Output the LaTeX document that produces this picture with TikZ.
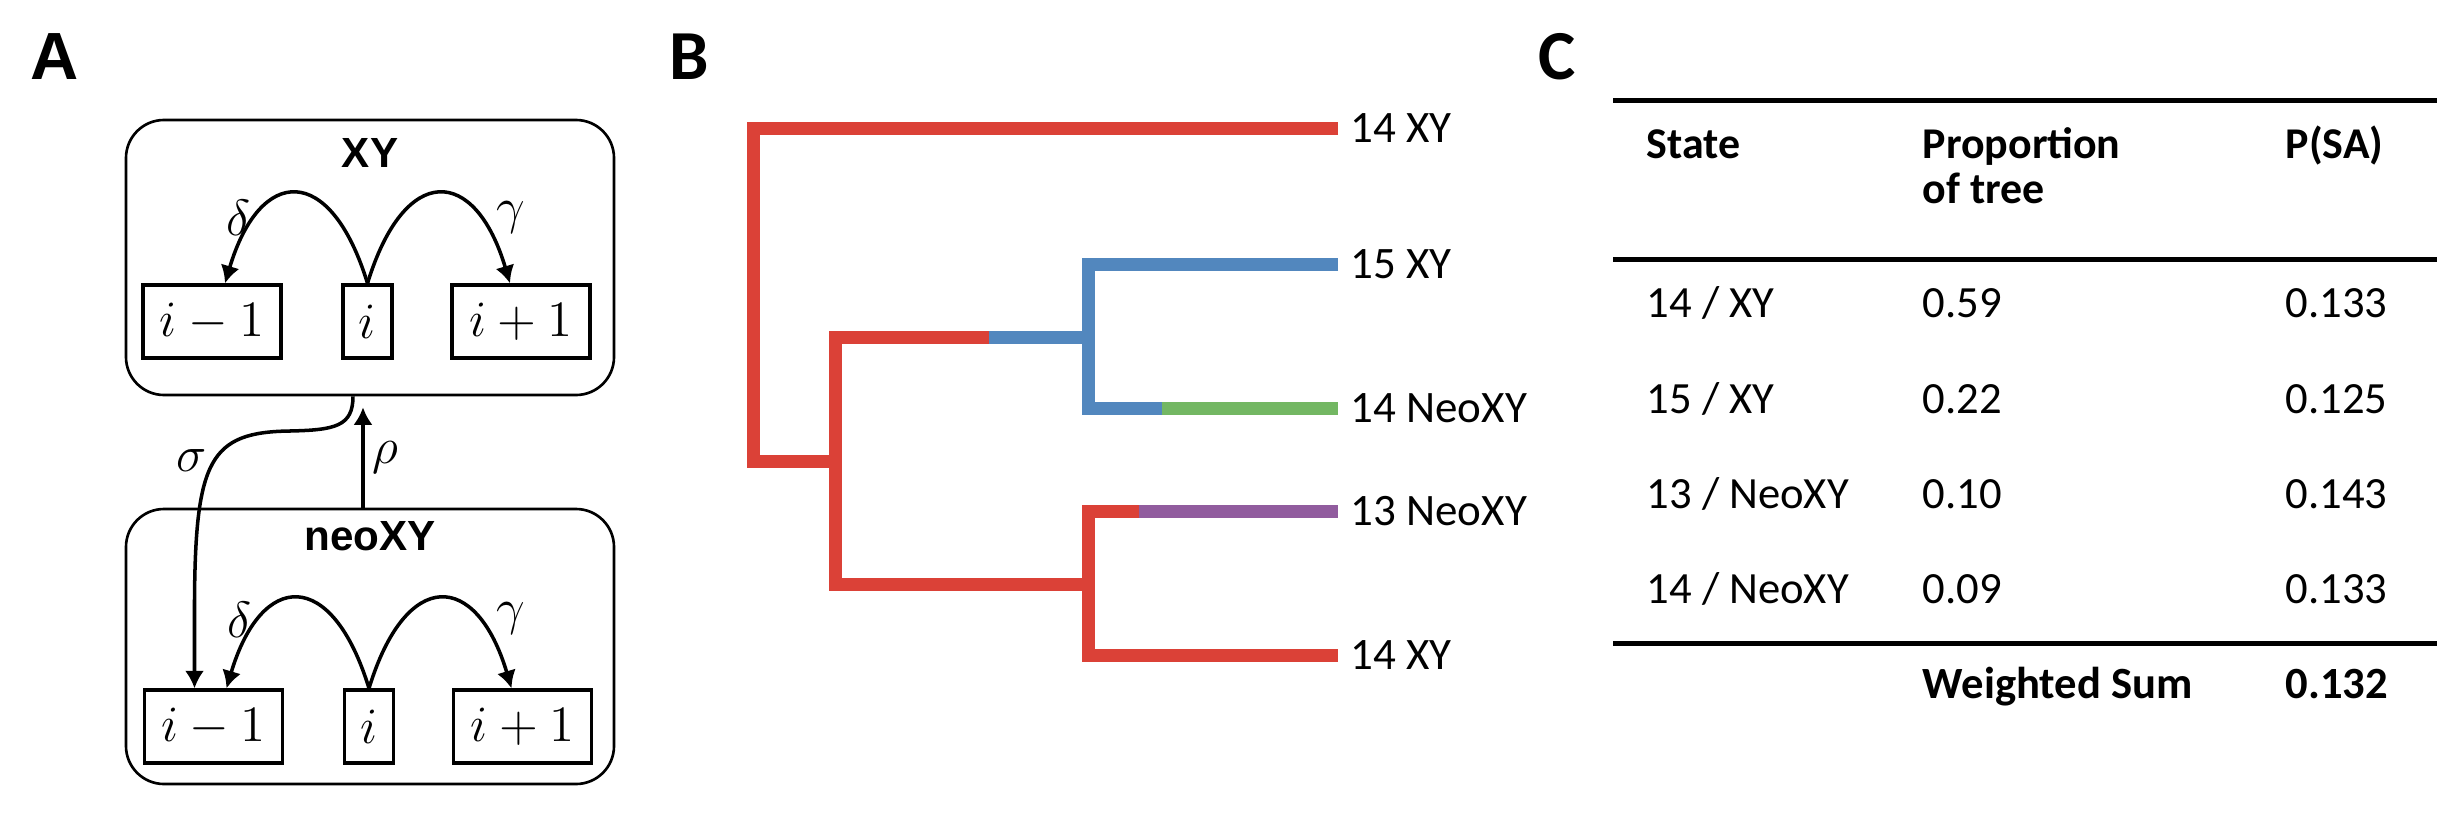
\RequirePackage{fix-cm}
\documentclass[tikz,border=0pt]{standalone}
\usepackage{fontspec}
\usetikzlibrary{arrows.meta}
\newfontfamily\tablefont{Carlito}
\newfontfamily\panelfont{Liberation Sans}
\definecolor{TreeRed}{HTML}{DB4137}
\definecolor{TreeBlue}{HTML}{5287BE}
\definecolor{TreeGreen}{HTML}{73B763}
\definecolor{TreePurple}{HTML}{915C9E}

\begin{document}
\begin{tikzpicture}[x=1cm,y=1cm,
  groupbox/.style={draw,line width=0.75pt,rounded corners=0.38cm,minimum width=4.88cm,minimum height=2.75cm,inner sep=0pt},
  statebox/.style={draw,line width=0.95pt,minimum height=0.73cm,inner sep=0pt,font=\fontsize{14.5}{17}\selectfont},
  arr/.style={line width=1pt,-{Latex[length=5pt,width=5.5pt]}},
  greek/.style={inner sep=0pt,font=\fontsize{14.5}{17}\selectfont},
  branch/.style={line width=0.13cm},
  tiplabel/.style={anchor=west,inner sep=0pt,font=\tablefont\fontsize{12.8}{15}\selectfont},
  headcell/.style={anchor=base west,inner sep=0pt,font=\tablefont\bfseries\fontsize{12.5}{15}\selectfont},
  bodycell/.style={anchor=base west,inner sep=0pt,font=\tablefont\fontsize{12.7}{15}\selectfont},
  panel/.style={anchor=base west,inner sep=0pt}]
\path[use as bounding box] (0,0) rectangle (24.57,8.16);

% panel letters
\node[panel,font=\panelfont\bfseries\fontsize{19}{22}\selectfont] (lblA) at (0.30,7.36) {A};
\node[panel,font=\tablefont\bfseries\fontsize{20}{24}\selectfont] (lblB) at (6.69,7.36) {B};
\node[panel,font=\tablefont\bfseries\fontsize{20}{24}\selectfont] (lblC) at (15.38,7.36) {C};

% A: model
\node[groupbox] (xy) at (3.70,5.585) {};
\node[groupbox] (neo) at (3.70,1.695) {};
\node[panel,anchor=base,font=\panelfont\bfseries\fontsize{12}{14}\selectfont] (xytitle) at (3.70,6.49) {XY};
\node[panel,anchor=base,font=\panelfont\bfseries\fontsize{12}{14}\selectfont] (neotitle) at (3.70,2.66) {neoXY};
\node[statebox,minimum width=1.38cm] (im1) at (2.12,4.945) {$i-1$};
\node[statebox,minimum width=0.49cm] (i1) at (3.675,4.945) {$i$};
\node[statebox,minimum width=1.38cm] (ip1) at (5.21,4.945) {$i+1$};
\node[statebox,minimum width=1.38cm] (im2) at (2.135,0.895) {$i-1$};
\node[statebox,minimum width=0.49cm] (i2) at (3.69,0.895) {$i$};
\node[statebox,minimum width=1.38cm] (ip2) at (5.225,0.895) {$i+1$};
\draw[arr] (i1.north) .. controls +(-0.37,1.21) and +(0.35,1.18) .. ([xshift=0.13cm]im1.north);
\draw[arr] (i1.north) .. controls +(0.37,1.21) and +(-0.35,1.18) .. ([xshift=-0.11cm]ip1.north);
\draw[arr] (i2.north) .. controls +(-0.37,1.21) and +(0.35,1.18) .. ([xshift=0.13cm]im2.north);
\draw[arr] (i2.north) .. controls +(0.37,1.21) and +(-0.35,1.18) .. ([xshift=-0.11cm]ip2.north);
\node[greek] (d1) at (2.39,5.98) {$\delta$};
\node[greek] (g1) at (5.11,5.99) {$\gamma$};
\node[greek] (d2) at (2.40,1.96) {$\delta$};
\node[greek] (g2) at (5.11,1.98) {$\gamma$};
\draw[arr] ([xshift=-0.17cm]xy.south) .. controls +(0,-0.30) and +(0.45,0.01) .. (2.90,3.85)
  .. controls +(-0.80,-0.01) and +(0.01,1.40) .. (1.945,2.16) -- ([xshift=-0.19cm]im2.north);
\draw[arr,shorten >=0.11cm] ([xshift=-0.07cm]neo.north) -- ([xshift=-0.07cm]xy.south);
\node[greek] (sig) at (1.92,3.55) {$\sigma$};
\node[greek] (rho) at (3.85,3.59) {$\rho$};

% B: tree
\draw[branch,TreeRed] (13.38,6.88) -- (7.535,6.88) -- (7.535,3.55) -- (8.355,3.55);
\draw[branch,TreeRed] (9.89,4.785) -- (8.355,4.785) -- (8.355,2.315) -- (10.88,2.315);
\draw[branch,TreeBlue] (9.89,4.785) -- (10.88,4.785);
\draw[branch,TreeBlue] (13.38,5.515) -- (10.88,5.515) -- (10.88,4.075) -- (11.62,4.075);
\draw[branch,TreeGreen] (11.62,4.075) -- (13.38,4.075);
\draw[branch,TreeRed] (11.39,3.045) -- (10.88,3.045) -- (10.88,1.605) -- (13.38,1.605);
\draw[branch,TreePurple] (11.39,3.045) -- (13.38,3.045);
\node[tiplabel] (tipa) at (13.50,6.88) {14 XY};
\node[tiplabel] (tipb) at (13.50,5.515) {15 XY};
\node[tiplabel] (tipc) at (13.50,4.075) {14 NeoXY};
\node[tiplabel] (tipd) at (13.50,3.045) {13 NeoXY};
\node[tiplabel] (tipe) at (13.50,1.605) {14 XY};

% C: table
\draw[line width=1.42pt] (16.13,7.155) -- (24.37,7.155);
\draw[line width=1.42pt] (16.13,5.565) -- (24.37,5.565);
\draw[line width=1.42pt] (16.13,1.73) -- (24.37,1.73);
\node[headcell] (hstate) at (16.46,6.58) {State};
\node[headcell] (hprop) at (19.22,6.58) {Proportion};
\node[headcell] (hpropb) at (19.22,6.13) {of tree};
\node[headcell] (hpsa) at (22.85,6.58) {P(SA)};
\node[bodycell] (r1s) at (16.46,4.99) {14 / XY};
\node[bodycell] (r1p) at (19.22,4.99) {0.59};
\node[bodycell] (r1q) at (22.85,4.99) {0.133};
\node[bodycell] (r2s) at (16.46,4.03) {15 / XY};
\node[bodycell] (r2p) at (19.22,4.03) {0.22};
\node[bodycell] (r2q) at (22.85,4.03) {0.125};
\node[bodycell] (r3s) at (16.46,3.08) {13 / NeoXY};
\node[bodycell] (r3p) at (19.22,3.08) {0.10};
\node[bodycell] (r3q) at (22.85,3.08) {0.143};
\node[bodycell] (r4s) at (16.46,2.13) {14 / NeoXY};
\node[bodycell] (r4p) at (19.22,2.13) {0.09};
\node[bodycell] (r4q) at (22.85,2.13) {0.133};
\node[bodycell,font=\tablefont\bfseries\fontsize{12.7}{15}\selectfont] (wsum) at (19.22,1.18) {Weighted Sum};
\node[bodycell,font=\tablefont\bfseries\fontsize{12.7}{15}\selectfont] (wsumv) at (22.85,1.18) {0.132};
\end{tikzpicture}
\end{document}
